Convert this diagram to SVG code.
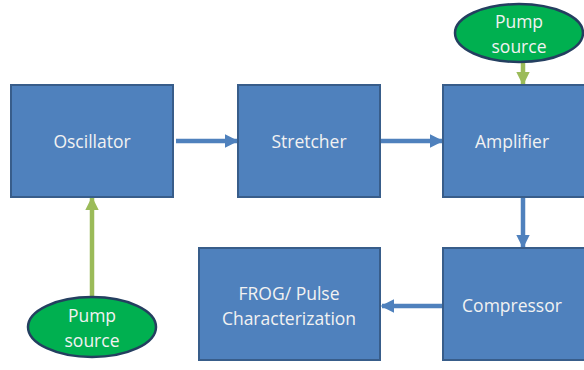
<svg xmlns="http://www.w3.org/2000/svg" width="584" height="370" viewBox="0 0 584 370">
<style>
.box{fill:#4F81BD;stroke:#385D8A;stroke-width:2}
.pump{fill:#00B050;stroke:#243F60;stroke-width:2.5}
.t{font-family:"Open Sans","Liberation Sans",sans-serif;font-size:17.5px;fill:#F2F2F2;text-anchor:middle;dominant-baseline:central}
.blue{stroke:#4F81BD;stroke-width:4.5;fill:none}
.green{stroke:#9BBB59;stroke-width:4.5;fill:none}
</style>
<defs>
<marker id="ab" viewBox="0 0 10 10" refX="9" refY="5" markerWidth="3" markerHeight="3" orient="auto" markerUnits="strokeWidth"><path d="M0,0L10,5L0,10z" fill="#4F81BD"/></marker>
<marker id="ag" viewBox="0 0 10 10" refX="9" refY="5" markerWidth="3" markerHeight="3" orient="auto" markerUnits="strokeWidth"><path d="M0,0L10,5L0,10z" fill="#9BBB59"/></marker>
</defs>
<rect width="584" height="370" fill="#FFFFFF"/>
<g id="connectors">
<line class="blue" x1="176" y1="141" x2="237" y2="141" marker-end="url(#ab)"/>
<line class="blue" x1="381" y1="141" x2="442" y2="141" marker-end="url(#ab)"/>
<line class="blue" x1="523" y1="198" x2="523" y2="247" marker-end="url(#ab)"/>
<line class="blue" x1="442" y1="306" x2="382" y2="306" marker-end="url(#ab)"/>
<line class="green" x1="92" y1="297" x2="92" y2="198" marker-end="url(#ag)"/>
<line class="green" x1="523" y1="62" x2="523" y2="84" marker-end="url(#ag)"/>
</g>
<g id="oscillator"><rect class="box" x="11" y="85" width="162" height="112"/><text class="t" x="92" y="141">Oscillator</text></g>
<g id="stretcher"><rect class="box" x="238" y="85" width="142" height="112"/><text class="t" x="309" y="141">Stretcher</text></g>
<g id="amplifier"><rect class="box" x="443" y="85" width="142" height="112"/><text class="t" x="512" y="141">Amplifier</text></g>
<g id="compressor"><rect class="box" x="443" y="248" width="142" height="112"/><text class="t" x="512" y="305">Compressor</text></g>
<g id="frog"><rect class="box" x="199" y="248" width="181" height="112"/><text class="t" x="289" y="293">FROG/ Pulse</text><text class="t" x="289" y="318">Characterization</text></g>
<g id="pump-top"><ellipse class="pump" cx="519" cy="33" rx="64" ry="29"/><text class="t" x="519" y="21">Pump</text><text class="t" x="519" y="46">source</text></g>
<g id="pump-bottom"><ellipse class="pump" cx="92" cy="327" rx="64" ry="30"/><text class="t" x="92" y="315">Pump</text><text class="t" x="92" y="340">source</text></g>
</svg>
